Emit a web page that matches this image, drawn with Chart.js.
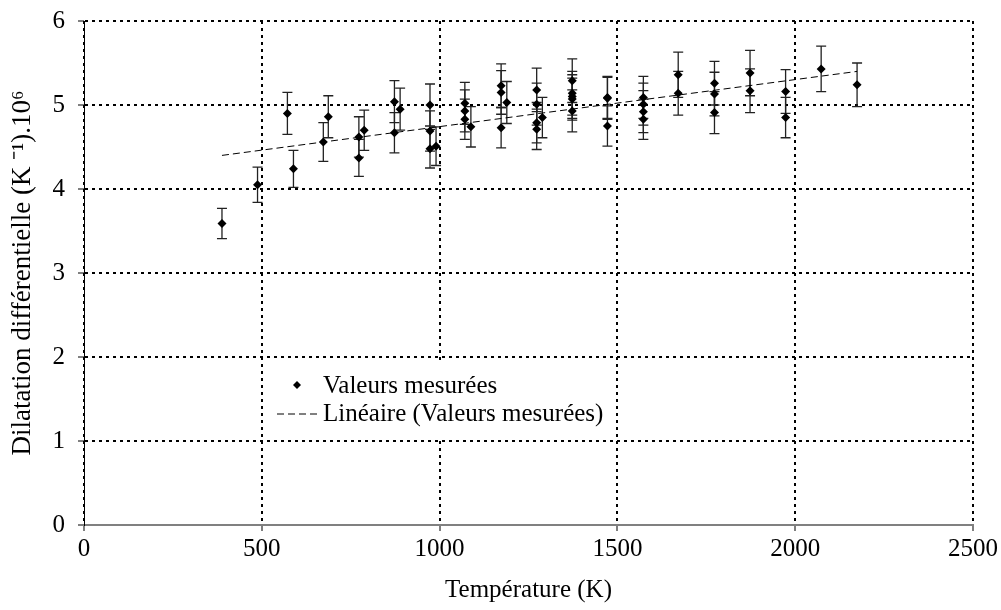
<!DOCTYPE html>
<html>
<head>
<meta charset="utf-8">
<script src="https://cdn.jsdelivr.net/npm/chart.js@4.4.0/dist/chart.umd.min.js"></script>
<style>
  body { margin: 0; background: #fff; }
  canvas { display: block; }
</style>
</head>
<body>
<canvas id="myChart" width="1001" height="610"></canvas>
<script>
// measured points (K, 1e-6/K) and their error half-widths
let temperatures = [388, 488, 572, 589, 673, 687, 773, 773, 788, 873, 873, 889, 973, 973, 973, 990,
    1071, 1071, 1071, 1088, 1173, 1173, 1173, 1189, 1273, 1273, 1273, 1273, 1289,
    1373, 1373, 1373, 1373, 1373, 1472, 1472, 1472, 1573, 1573, 1573, 1573,
    1671, 1671, 1773, 1773, 1773, 1873, 1873, 1973, 1973, 2073, 2174];
let values = [3.59, 4.05, 4.90, 4.24, 4.56, 4.86, 4.62, 4.37, 4.70, 5.04, 4.67, 4.95, 5.00, 4.69, 4.48, 4.51,
    5.02, 4.93, 4.83, 4.74, 5.23, 5.15, 4.73, 5.03, 5.18, 5.01, 4.79, 4.71, 4.85,
    5.29, 5.14, 5.10, 5.07, 4.93, 5.09, 5.08, 4.75, 5.09, 5.01, 4.92, 4.83,
    5.36, 5.14, 5.26, 5.13, 4.91, 5.38, 5.17, 5.16, 4.85, 5.43, 5.24];
let errors = [0.18, 0.21, 0.25, 0.22, 0.23, 0.25, 0.24, 0.22, 0.24, 0.25, 0.24, 0.25, 0.25, 0.24, 0.23, 0.23,
    0.25, 0.25, 0.24, 0.24, 0.26, 0.26, 0.24, 0.25, 0.26, 0.25, 0.24, 0.24, 0.24,
    0.26, 0.26, 0.26, 0.25, 0.25, 0.25, 0.25, 0.24, 0.25, 0.25, 0.25, 0.24,
    0.27, 0.26, 0.26, 0.26, 0.25, 0.27, 0.26, 0.26, 0.24, 0.27, 0.26];

// linear trend line, end points
let trendX = [388, 2174];
let trendY = [4.40, 5.40];

let xTicks = [0, 500, 1000, 1500, 2000, 2500];
let yTicks = [0, 1, 2, 3, 4, 5, 6];

const serif = "'Liberation Serif', 'Times New Roman', serif";

// error bars, drawn under the markers
const errorBars = {
    id: 'errorBars',
    beforeDatasetsDraw(chart) {
        const ctx = chart.ctx, x = chart.scales.x, y = chart.scales.y;
        ctx.save();
        ctx.strokeStyle = '#222';
        ctx.lineWidth = 1.3;
        for (let i = 0; i < temperatures.length; i++) {
            const px = x.getPixelForValue(temperatures[i]);
            const top = y.getPixelForValue(values[i] + errors[i]);
            const bot = y.getPixelForValue(values[i] - errors[i]);
            ctx.beginPath();
            ctx.moveTo(px, top); ctx.lineTo(px, bot);
            ctx.moveTo(px - 5, top); ctx.lineTo(px + 5, top);
            ctx.moveTo(px - 5, bot); ctx.lineTo(px + 5, bot);
            ctx.stroke();
        }
        ctx.restore();
    }
};

// legend sits inside the plot on a white box
const innerLegend = {
    id: 'innerLegend',
    afterDraw(chart) {
        const ctx = chart.ctx;
        const ds = chart.data.datasets;
        ctx.save();
        ctx.fillStyle = '#fff';
        ctx.fillRect(265, 360, 350, 79);
        ctx.font = '25px ' + serif;
        ctx.textBaseline = 'middle';
        ctx.fillStyle = '#000';
        // marker
        ctx.beginPath();
        ctx.moveTo(297, 381); ctx.lineTo(301, 385); ctx.lineTo(297, 389); ctx.lineTo(293, 385);
        ctx.closePath();
        ctx.fill();
        ctx.fillText(ds[0].label, 323, 386);
        // dashed line
        ctx.strokeStyle = '#000';
        ctx.lineWidth = 1;
        ctx.setLineDash([7, 4]);
        ctx.beginPath();
        ctx.moveTo(277, 414); ctx.lineTo(318, 414);
        ctx.stroke();
        ctx.setLineDash([]);
        ctx.fillText(ds[1].label, 323, 414);
        ctx.restore();
    }
};

let myChart = document.getElementById('myChart').getContext('2d');

let dilChart = new Chart(myChart, {
    type: 'scatter',
    data: {
        datasets: [{
            label: 'Valeurs mesurées',
            data: temperatures.map((t, i) => ({ x: t, y: values[i] })),
            pointStyle: 'rectRot',
            pointRadius: 4.5,
            backgroundColor: '#000',
            borderColor: '#000',
            borderWidth: 0
        }, {
            label: 'Linéaire (Valeurs mesurées)',
            type: 'line',
            data: trendX.map((t, i) => ({ x: t, y: trendY[i] })),
            borderColor: '#000',
            borderWidth: 1,
            borderDash: [7, 4],
            pointRadius: 0,
            fill: false
        }]
    },
    options: {
        responsive: false,
        animation: false,
        layout: { padding: { top: 21, right: 28, left: 0, bottom: 0 } },
        plugins: {
            legend: { display: false },
            tooltip: { enabled: false }
        },
        scales: {
            x: {
                type: 'linear',
                min: 0,
                max: 2500,
                afterBuildTicks: s => { s.ticks = xTicks.map(v => ({ value: v })); },
                afterFit: s => { s.height = 85; s.paddingLeft = 0; s.paddingRight = 0; },
                grid: { color: '#000', lineWidth: 2, tickLength: 6, tickColor: '#000', tickWidth: 1 },
                border: { color: '#808080', width: 2, dash: [3, 4] },
                ticks: { color: '#000', font: { family: serif, size: 25 }, padding: 3, maxRotation: 0, callback: v => String(v) },
                title: {
                    display: true,
                    text: 'Température (K)',
                    color: '#000',
                    font: { family: serif, size: 25 },
                    padding: { top: 0, bottom: 5 }
                }
            },
            y: {
                type: 'linear',
                min: 0,
                max: 6,
                afterBuildTicks: s => { s.ticks = yTicks.map(v => ({ value: v })); },
                afterFit: s => { s.width = 84; s.paddingTop = 0; s.paddingBottom = 0; },
                grid: { color: '#000', lineWidth: 2, tickLength: 6, tickColor: '#000', tickWidth: 1 },
                border: { color: '#000', width: 1, dash: [3, 4] },
                ticks: { color: '#000', font: { family: serif, size: 25 }, padding: 13, callback: v => String(v) },
                title: {
                    display: true,
                    text: 'Dilatation différentielle (K ⁻¹).10⁶',
                    color: '#000',
                    font: { family: serif, size: 27 },
                    padding: { top: 7, bottom: 0 }
                }
            }
        }
    },
    plugins: [errorBars, innerLegend]
});
</script>
</body>
</html>
